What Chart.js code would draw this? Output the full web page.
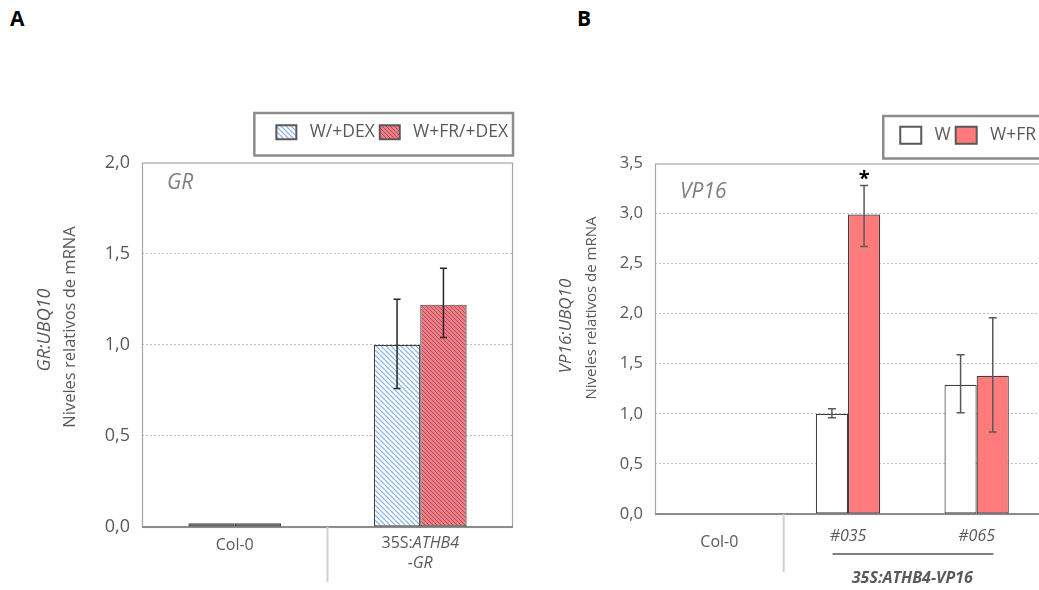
<!DOCTYPE html>
<html>
<head>
<meta charset="utf-8">
<script src="https://cdn.jsdelivr.net/npm/chart.js@4/dist/chart.umd.min.js"></script>
<style>
  body { margin: 0; width: 1039px; height: 590px; overflow: hidden; background: #fff; position: relative; }
  canvas { position: absolute; top: 0; }
  #chartA { left: 0; }
  #chartB { left: 530px; }
  .letter { position: absolute; top: 4px; font: bold 21px "Open Sans"; color: #000; }
</style>
</head>
<body>
<div class="letter" style="left:10px">A</div>
<div class="letter" style="left:577px">B</div>
<canvas id="chartA" width="530" height="590"></canvas>
<canvas id="chartB" width="515" height="590"></canvas>
<script>
// ---- panel A data ----
const categoriesA = ['Col-0', '35S:ATHB4-GR'];
const seriesA = ['W/+DEX', 'W+FR/+DEX'];
const valuesA_W = [0.02, 1.0];
const valuesA_FR = [0.02, 1.22];
const errLowA_W = [null, 0.76];
const errHighA_W = [null, 1.25];
const errLowA_FR = [null, 1.04];
const errHighA_FR = [null, 1.42];
const yMaxA = 2.0;

// ---- panel B data ----
const categoriesB = ['Col-0', '#035', '#065'];
const groupB = '35S:ATHB4-VP16';
const seriesB = ['W', 'W+FR'];
const valuesB_W = [0, 1.0, 1.29];
const valuesB_FR = [0, 2.99, 1.38];
const errLowB_W = [null, 0.96, 1.01];
const errHighB_W = [null, 1.05, 1.59];
const errLowB_FR = [null, 2.67, 0.82];
const errHighB_FR = [null, 3.28, 1.96];
const signifB_FR = ['', '*', ''];
const yMaxB = 3.5;

const FONT = '"Open Sans"';
const TXT = '#595959';

function hatch(ctx, bg, line, gap, lw) {
  const c = document.createElement('canvas');
  c.width = gap; c.height = gap;
  const g = c.getContext('2d');
  g.fillStyle = bg; g.fillRect(0, 0, gap, gap);
  g.strokeStyle = line; g.lineWidth = lw;
  g.beginPath();
  for (let i = -1; i <= 1; i++) { g.moveTo(i * gap, 0); g.lineTo(i * gap + gap, gap); }
  g.stroke();
  return ctx.createPattern(c, 'repeat');
}

// text made of runs with different styles, centred on cx
function runs(ctx, parts, cx, y, size, color) {
  const fonts = parts.map(p => (p[1] + ' ' + size + 'px ' + FONT).trim());
  let total = 0;
  const widths = parts.map((p, i) => { ctx.font = fonts[i]; const w = ctx.measureText(p[0]).width; total += w; return w; });
  let x = cx - total / 2;
  ctx.fillStyle = color; ctx.textBaseline = 'middle'; ctx.textAlign = 'left';
  parts.forEach((p, i) => { ctx.font = fonts[i]; ctx.fillText(p[0], x, y); x += widths[i]; });
}

function yTitle(ctx, parts, x, y, size) {
  ctx.save();
  ctx.translate(x, y); ctx.rotate(-Math.PI / 2);
  runs(ctx, parts, 0, 0, size, TXT);
  ctx.restore();
}

function frame(chart) {
  const {ctx, chartArea: a} = chart;
  ctx.save();
  ctx.strokeStyle = '#A6A6A6'; ctx.lineWidth = 1.2;
  ctx.strokeRect(a.left + 0.5, a.top + 0.5, a.right - a.left - 1, a.bottom - a.top);
  ctx.strokeStyle = '#8C8C8C'; ctx.lineWidth = 2;
  ctx.beginPath(); ctx.moveTo(a.left, a.bottom); ctx.lineTo(a.right, a.bottom); ctx.stroke();
  ctx.restore();
}

function errorBars(chart, list, color, cap) {
  const {ctx} = chart;
  const y = chart.scales.y;
  ctx.save();
  ctx.strokeStyle = color; ctx.lineWidth = 1.5;
  list.forEach(e => {
    chart.getDatasetMeta(e.ds).data.forEach((bar, j) => {
      if (e.low[j] == null) return;
      const y1 = y.getPixelForValue(e.low[j]), y2 = y.getPixelForValue(e.high[j]);
      ctx.beginPath();
      ctx.moveTo(bar.x, y1); ctx.lineTo(bar.x, y2);
      ctx.moveTo(bar.x - cap, y1); ctx.lineTo(bar.x + cap, y1);
      ctx.moveTo(bar.x - cap, y2); ctx.lineTo(bar.x + cap, y2);
      ctx.stroke();
    });
  });
  ctx.restore();
}

function legendBox(chart, padLeft) {
  const lg = chart.legend, hb = lg.legendHitBoxes;
  const {ctx} = chart;
  ctx.save();
  ctx.strokeStyle = '#8C8C8C'; ctx.lineWidth = 2.5;
  const top = hb[0].top - 10.5, bottom = hb[0].top + hb[0].height + 14.5;
  ctx.strokeRect(hb[0].left - padLeft, top, lg.right - (hb[0].left - padLeft), bottom - top);
  ctx.restore();
}

function divider(chart, i, len) {
  const {ctx, chartArea: a} = chart;
  const x = chart.scales.x;
  const xm = (x.getPixelForValue(i) + x.getPixelForValue(i + 1)) / 2;
  ctx.save();
  ctx.strokeStyle = '#D0D0D0'; ctx.lineWidth = 2;
  ctx.beginPath(); ctx.moveTo(xm, a.bottom); ctx.lineTo(xm, a.bottom + len); ctx.stroke();
  ctx.restore();
}

const fmt = v => v.toFixed(1).replace('.', ',');

function legendLabels(chart) {
  return Chart.defaults.plugins.legend.labels.generateLabels(chart).map((l, i) => {
    const ds = chart.data.datasets[i];
    l.text = ' ' + l.text; l.lineWidth = 2; l.strokeStyle = '#595959';
    l.fillStyle = ds.legendFill || l.fillStyle;
    return l;
  });
}

function baseOptions(yMax, yWidth, xHeight, padTop, padRight, boxW, boxH, spacer) {
  return {
    responsive: false,
    animation: false,
    devicePixelRatio: 1,
    layout: { padding: { top: padTop, right: padRight, bottom: 0, left: 0 } },
    plugins: {
      tooltip: { enabled: false },
      legend: {
        position: 'top', align: 'end', weight: 3000,
        labels: { font: { family: 'Open Sans', size: 17.5 }, color: TXT, boxWidth: boxW, boxHeight: boxH, padding: 5, generateLabels: legendLabels }
      },
      subtitle: { display: true, text: '', font: { size: 1, lineHeight: 1 }, padding: { top: 0, bottom: spacer - 1 } }
    },
    scales: {
      x: {
        offset: true,
        grid: { display: false },
        border: { display: false },
        ticks: { display: false },
        afterFit: s => { s.height = xHeight; }
      },
      y: {
        min: 0, max: yMax,
        grid: { color: c => (c.tick.value === 0 || c.tick.value === yMax) ? 'rgba(0,0,0,0)' : '#BFBFBF', lineWidth: 1, drawTicks: false },
        border: { display: false, dash: [2, 2] },
        ticks: { stepSize: 0.5, padding: 12, color: TXT, font: { family: 'Open Sans', size: 18 }, callback: v => fmt(v) },
        afterFit: s => { s.width = yWidth; }
      }
    }
  };
}

// ---------------- Chart A ----------------
const ctxA = document.getElementById('chartA').getContext('2d');
const patW = hatch(ctxA, '#FFFFFF', '#8DB6E4', 5, 1.3);
const patFR = hatch(ctxA, '#FF7B7B', 'rgba(50,60,125,0.55)', 4, 1);

const extrasA = {
  id: 'extrasA',
  beforeDatasetsDraw(chart) { frame(chart); },
  afterDatasetsDraw(chart) {
    errorBars(chart, [
      { ds: 0, low: errLowA_W, high: errHighA_W },
      { ds: 1, low: errLowA_FR, high: errHighA_FR }
    ], '#262626', 3.5);
  },
  afterDraw(chart) {
    const {ctx, chartArea: a} = chart;
    const x = chart.scales.x;
    legendBox(chart, 22);
    divider(chart, 0, 55);
    // category labels
    runs(ctx, [[categoriesA[0], '']], x.getPixelForValue(0), a.bottom + 18, 16, TXT);
    const name = categoriesA[1];
    const cut = name.indexOf('-');
    runs(ctx, [[name.slice(0, 4), ''], [name.slice(4, cut), 'italic']], x.getPixelForValue(1), a.bottom + 16, 16, TXT);
    runs(ctx, [[name.slice(cut), 'italic']], x.getPixelForValue(1), a.bottom + 36, 16, TXT);
    // panel title
    ctx.save();
    ctx.font = 'italic 21px ' + FONT; ctx.fillStyle = '#7F7F7F'; ctx.textBaseline = 'middle'; ctx.textAlign = 'left';
    ctx.fillText('GR', a.left + 25, a.top + 21);
    ctx.restore();
    // y title
    yTitle(ctx, [['GR:UBQ10', 'italic']], 45, 330, 18);
    yTitle(ctx, [['Niveles relativos de mRNA', '']], 70, 327, 16.5);
  }
};

new Chart(ctxA, {
  type: 'bar',
  data: {
    labels: categoriesA,
    datasets: [
      { label: seriesA[0], data: valuesA_W, backgroundColor: ['#404040', patW], legendFill: patW, borderColor: '#404040', borderWidth: 1.2, borderSkipped: false, barPercentage: 1, categoryPercentage: 0.5 },
      { label: seriesA[1], data: valuesA_FR, backgroundColor: ['#404040', patFR], legendFill: patFR, borderColor: '#404040', borderWidth: 1.2, borderSkipped: false, barPercentage: 1, categoryPercentage: 0.5 }
    ]
  },
  options: baseOptions(yMaxA, 142, 63, 118.5, 17, 20, 14, 11.5),
  plugins: [extrasA]
});

// ---------------- Chart B ----------------
const ctxB = document.getElementById('chartB').getContext('2d');

const extrasB = {
  id: 'extrasB',
  beforeDatasetsDraw(chart) { frame(chart); },
  afterDatasetsDraw(chart) {
    errorBars(chart, [
      { ds: 0, low: errLowB_W, high: errHighB_W },
      { ds: 1, low: errLowB_FR, high: errHighB_FR }
    ], '#595959', 4);
    const {ctx} = chart;
    const y = chart.scales.y;
    ctx.save();
    ctx.font = 'bold 20px ' + FONT; ctx.fillStyle = '#000'; ctx.textAlign = 'center'; ctx.textBaseline = 'alphabetic';
    chart.getDatasetMeta(1).data.forEach((bar, j) => {
      if (signifB_FR[j]) ctx.fillText(signifB_FR[j], bar.x, y.getPixelForValue(errHighB_FR[j]) - 1);
    });
    ctx.restore();
  },
  afterDraw(chart) {
    const {ctx, chartArea: a} = chart;
    const x = chart.scales.x;
    legendBox(chart, 17);
    divider(chart, 0, 58);
    runs(ctx, [[categoriesB[0], '']], x.getPixelForValue(0), a.bottom + 28, 16, TXT);
    runs(ctx, [[categoriesB[1], 'italic']], x.getPixelForValue(1), a.bottom + 22, 16, TXT);
    runs(ctx, [[categoriesB[2], 'italic']], x.getPixelForValue(2), a.bottom + 22, 16, TXT);
    // group line + label
    const w = x.getPixelForValue(1) - x.getPixelForValue(0);
    const x1 = x.getPixelForValue(1) - 0.12 * w, x2 = x.getPixelForValue(2) + 0.13 * w;
    ctx.save();
    ctx.strokeStyle = '#808080'; ctx.lineWidth = 2;
    ctx.beginPath(); ctx.moveTo(x1, a.bottom + 40); ctx.lineTo(x2, a.bottom + 40); ctx.stroke();
    ctx.restore();
    runs(ctx, [[groupB, 'italic bold']], (x.getPixelForValue(1) + x.getPixelForValue(2)) / 2, a.bottom + 64, 16, TXT);
    // panel title
    ctx.save();
    ctx.font = 'italic 21px ' + FONT; ctx.fillStyle = '#7F7F7F'; ctx.textBaseline = 'middle'; ctx.textAlign = 'left';
    ctx.fillText('VP16', a.left + 25, a.top + 29);
    ctx.restore();
    yTitle(ctx, [['VP16:UBQ10', 'italic']], 36, 326, 17);
    yTitle(ctx, [['Niveles relativos de mRNA', '']], 62, 308, 15);
  }
};

const optsB = baseOptions(yMaxB, 125, 76, 121.5, 4, 21, 17, 9.5);
optsB.scales.y.ticks.font.size = 16.5;

new Chart(ctxB, {
  type: 'bar',
  data: {
    labels: categoriesB,
    datasets: [
      { label: seriesB[0], data: valuesB_W, backgroundColor: '#FFFFFF', borderColor: '#404040', borderWidth: 1.2, borderSkipped: false, barPercentage: 1, categoryPercentage: 0.5 },
      { label: seriesB[1], data: valuesB_FR, backgroundColor: '#FF7B7B', borderColor: '#404040', borderWidth: 1.2, borderSkipped: false, barPercentage: 1, categoryPercentage: 0.5 }
    ]
  },
  options: optsB,
  plugins: [extrasB]
});
</script>
</body>
</html>
